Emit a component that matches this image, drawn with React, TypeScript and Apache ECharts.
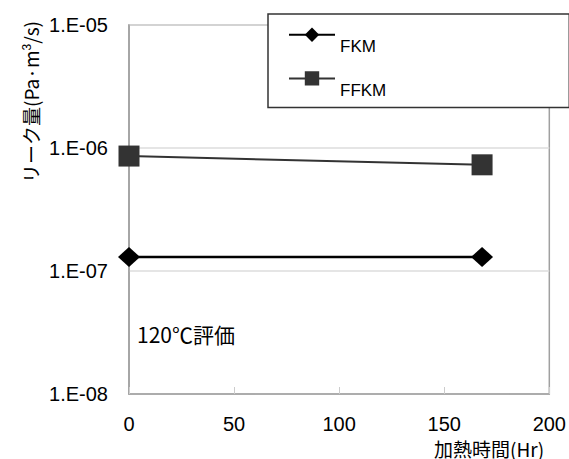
import React, { useEffect, useRef } from "react";
import * as echarts from "echarts";

const xTicks = [0, 50, 100, 150, 200];
const seriesNames = ["FKM", "FFKM"];
const hours = [0, 168];
const fkmValues = [1.3e-7, 1.3e-7];
const ffkmValues = [8.6e-7, 7.3e-7];
const yMin = 1e-8;
const yMax = 1e-5;

const NUM_FONT = "'Liberation Sans', Arial, sans-serif";
const JP_FONT = "'Noto Sans CJK JP', 'Liberation Sans', sans-serif";

function fmtExp(v: number): string {
  const e = Math.round(Math.log10(v));
  const sign = e < 0 ? "-" : "+";
  const a = Math.abs(e);
  return "1.E" + sign + (a < 10 ? "0" + a : String(a));
}

export default function App() {
  const ref = useRef<HTMLDivElement>(null);
  useEffect(() => {
    if (!ref.current) return;
    const chart = echarts.init(ref.current, null, { renderer: "svg" });
    chart.setOption({
      animation: false,
      backgroundColor: "#fff",
      grid: { left: 129, top: 25, right: 17, bottom: 65, show: true, borderColor: "#a0a0a0", borderWidth: 1.5 },
      legend: {
        orient: "vertical",
        left: 268,
        top: 14,
        data: seriesNames,
        itemWidth: 46,
        itemHeight: 18,
        itemGap: 16,
        padding: [13.5, 183, 8.5, 20],
        borderColor: "#333",
        borderWidth: 1.5,
        backgroundColor: "#fff",
        formatter: "{t|{name}}",
        textStyle: {
          fontSize: 17,
          fontFamily: NUM_FONT,
          color: "#000",
          rich: {
            t: { fontSize: 17, fontFamily: NUM_FONT, color: "#000", padding: [24, 0, 0, 0] },
          },
        },
      },
      xAxis: {
        type: "value",
        min: xTicks[0],
        max: xTicks[xTicks.length - 1],
        interval: 50,
        axisLine: { show: true, lineStyle: { color: "#a0a0a0", width: 1.5 } },
        axisTick: { show: true, inside: true, length: 7, lineStyle: { color: "#ccc" } },
        axisLabel: { fontSize: 20, fontFamily: NUM_FONT, color: "#000", margin: 20 },
        splitLine: { show: false },
      },
      yAxis: {
        type: "log",
        logBase: 10,
        min: yMin,
        max: yMax,
        axisLine: { show: true, lineStyle: { color: "#a0a0a0", width: 1.5 } },
        axisTick: { show: false },
        minorTick: { show: false },
        axisLabel: { fontSize: 20, fontFamily: NUM_FONT, color: "#000", margin: 21, formatter: (v: number) => fmtExp(v) },
        splitLine: { show: true, lineStyle: { color: "#dcdcdc", width: 1.5 } },
      },
      series: [
        {
          name: seriesNames[0],
          type: "line",
          data: hours.map((h, i) => [h, fkmValues[i]]),
          symbol: "diamond",
          symbolSize: [22, 20],
          itemStyle: { color: "#000" },
          lineStyle: { color: "#000", width: 2.5 },
          z: 3,
        },
        {
          name: seriesNames[1],
          type: "line",
          data: hours.map((h, i) => [h, ffkmValues[i]]),
          symbol: "rect",
          symbolSize: 21,
          itemStyle: { color: "#333" },
          lineStyle: { color: "#333", width: 2 },
          z: 3,
        },
      ],
      graphic: [
        {
          type: "text",
          x: 30,
          y: 102,
          rotation: Math.PI / 2,
          style: {
            text: "{a|リーク量(Pa·m}{s|3}{a|/s)}",
            align: "center",
            verticalAlign: "middle",
            rich: {
              a: { fontSize: 19, fontFamily: JP_FONT, fill: "#000" },
              s: { fontSize: 12, fontFamily: NUM_FONT, fill: "#000", verticalAlign: "top" },
            },
          },
        },
        {
          type: "text",
          left: 137,
          top: 323,
          style: { text: "120℃評価", fontSize: 21, fontFamily: JP_FONT, fill: "#000" },
        },
        {
          type: "text",
          x: 434,
          y: 448,
          style: {
            text: "加熱時間(Hr)",
            fontSize: 19,
            lineHeight: 19,
            fontFamily: JP_FONT,
            fill: "#000",
            verticalAlign: "middle",
            align: "left",
          },
        },
      ],
    });
    return () => chart.dispose();
  }, []);
  return <div ref={ref} style={{ width: 569, height: 459, position: "absolute", left: 0, top: 0 }} />;
}
